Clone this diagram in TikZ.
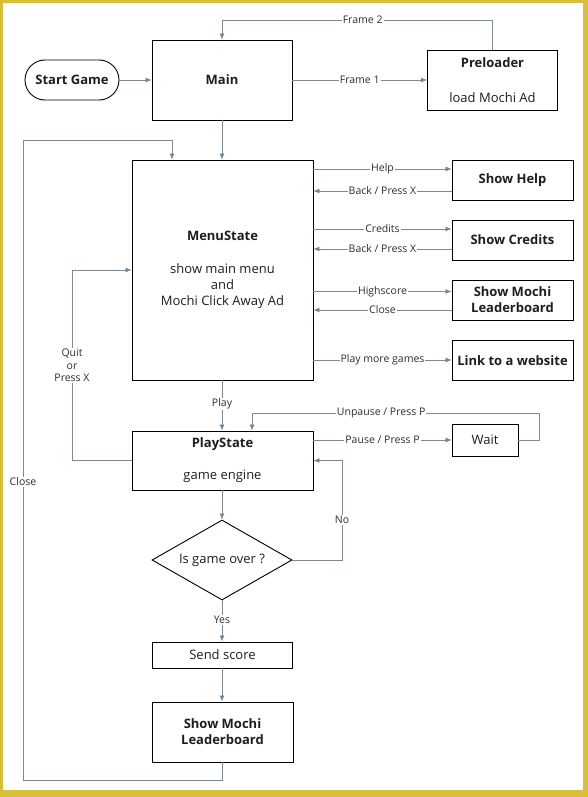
\documentclass[tikz,border=0pt]{standalone}
\usepackage{fontspec}
\setmainfont{Open Sans}
\usetikzlibrary{arrows.meta,shapes.geometric}
\definecolor{frameyel}{HTML}{D8BF3A}
\definecolor{linec}{HTML}{7E8A93}
\definecolor{arrowc}{HTML}{6F8797}
\definecolor{txtc}{HTML}{1E1E1E}
\definecolor{lblc}{HTML}{2E2E2E}
\tikzset{
  box/.style={draw=black, line width=0.9pt, fill=white, text=txtc, align=center, inner sep=0pt,
    font=\fontsize{13}{16}\selectfont},
  conn/.style={draw=linec, line width=0.8pt},
  arr/.style={conn, -{Latex[length=6pt,width=5pt,color=arrowc]}},
  lbl/.style={fill=white, text=lblc, inner sep=1pt, align=center,
    font=\fontsize{10.5}{12.5}\selectfont},
}
\begin{document}
\begin{tikzpicture}[x=1pt,y=-1pt]
\useasboundingbox (0,0) rectangle (588,797);
\fill[frameyel] (0,0) rectangle (588,797);
\fill[white] (3,3) rectangle (583,790);

% nodes
\node[box, rounded corners=20pt, minimum width=94pt, minimum height=40pt] (start) at (72,80) {\textbf{Start Game}};
\node[box, minimum width=140pt, minimum height=80pt] (main) at (222,80) {\textbf{Main}};
\node[box, minimum width=130pt, minimum height=60pt] (pre) at (492.5,80) {\textbf{Preloader}\\[19pt]load Mochi Ad};
\node[box, minimum width=181pt, minimum height=220pt] (menu) at (222.5,270) {\textbf{MenuState}\\[17pt]show main menu\\and\\Mochi Click Away Ad};
\node[box, minimum width=121pt, minimum height=40pt] (help) at (512.5,180) {\textbf{Show Help}};
\node[box, minimum width=121pt, minimum height=40pt] (credits) at (512.5,240) {\textbf{Show Credits}};
\node[box, minimum width=121pt, minimum height=40pt] (lbone) at (512.5,300) {\textbf{Show Mochi}\\\textbf{Leaderboard}};
\node[box, minimum width=121pt, minimum height=40pt] (web) at (512.5,360.5) {\textbf{Link to a website}};
\node[box, minimum width=181pt, minimum height=59pt] (play) at (222.5,460.5) {\textbf{PlayState}\\[16pt]game engine};
\node[box, minimum width=66pt, minimum height=32pt] (wait) at (485,440) {Wait};
\node[box, diamond, aspect=1.75, minimum width=140pt, minimum height=80pt] (over) at (222,560) {Is game over ?};
\node[box, minimum width=140pt, minimum height=26pt] (send) at (222.5,655) {Send score};
\node[box, minimum width=141pt, minimum height=60pt] (lbtwo) at (222.5,732) {\textbf{Show Mochi}\\\textbf{Leaderboard}};

\coordinate (ctop) at (23,140);
\coordinate (cbot) at (23,780);

% connectors
\draw[arr] (start.east) -- (main.west);
\draw[arr] (main.east) -- node[lbl] {Frame 1} (pre.west);
\draw[arr] (pre.north) -- (492.5,20) -- node[lbl, pos=0.48] {Frame 2} (222,20) -- (main.north);
\draw[arr] (main.south) -- (menu.north -| main.south);

\draw[arr] (menu.east |- 0,169) -- node[lbl] {Help} (help.west |- 0,169);
\draw[arr] (help.west |- 0,191) -- node[lbl] {Back / Press X} (menu.east |- 0,191);
\draw[arr] (menu.east |- 0,229) -- node[lbl] {Credits} (credits.west |- 0,229);
\draw[arr] (credits.west |- 0,249) -- node[lbl] {Back / Press X} (menu.east |- 0,249);
\draw[arr] (menu.east |- 0,291.5) -- node[lbl] {Highscore} (lbone.west |- 0,291.5);
\draw[arr] (lbone.west |- 0,310) -- node[lbl] {Close} (menu.east |- 0,310);
\draw[arr] (menu.east |- 0,360) -- node[lbl] {Play more games} (web.west |- 0,360);

\draw[arr] (menu.south -| 222,0) -- node[lbl, pos=0.47] {Play} (play.north -| 222,0);
\draw[arr] (play.east |- wait.west) -- node[lbl] {Pause / Press P} (wait.west);
\draw[arr] (wait.east) -- (539,440) -- (539,413) -- node[lbl, pos=0.55] {Unpause / Press P} (252,413) -- (play.north -| 252,0);

\draw[arr] (play.south -| over.north) -- (over.north);
\draw[arr] (over.east) -- (342,560) -- node[lbl, pos=0.4] {No} (342,460.5) -- (play.east);
\draw[arr] (over.south) -- node[lbl, pos=0.47] {Yes} (send.north -| over.south);
\draw[arr] (send.south -| 222,0) -- (lbtwo.north -| 222,0);

\draw[arr] (lbtwo.south -| 222,0) -- (222,780) -- (cbot) -- node[lbl, pos=0.466] {Close} (ctop) -- (172,140) -- (menu.north -| 172,0);
\draw[arr] (play.west) -- (72,460.5) -- node[lbl, pos=0.5] {Quit\\or\\Press X} (72,270) -- (menu.west);
\end{tikzpicture}
\end{document}
